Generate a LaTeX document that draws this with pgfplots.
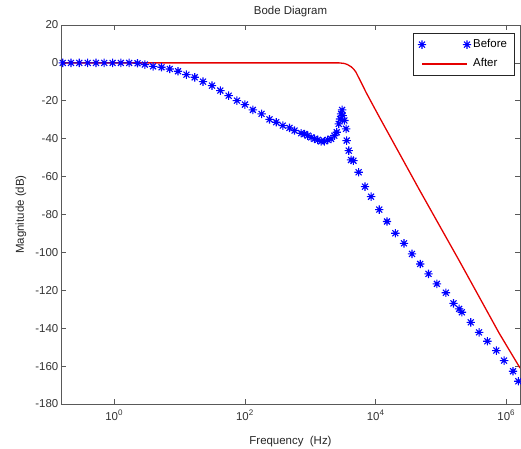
\documentclass[border=0pt]{standalone}
\usepackage{fontspec}
\setmainfont{Liberation Sans}
\usepackage{pgfplots}
\pgfplotsset{compat=1.18}
\pgfdeclareplotmark{mstar}{%
 \pgfpathmoveto{\pgfqpoint{-\pgfplotmarksize}{0pt}}\pgfpathlineto{\pgfqpoint{\pgfplotmarksize}{0pt}}%
 \pgfpathmoveto{\pgfqpoint{0pt}{-\pgfplotmarksize}}\pgfpathlineto{\pgfqpoint{0pt}{\pgfplotmarksize}}%
 \pgfpathmoveto{\pgfqpoint{-0.707\pgfplotmarksize}{-0.707\pgfplotmarksize}}\pgfpathlineto{\pgfqpoint{0.707\pgfplotmarksize}{0.707\pgfplotmarksize}}%
 \pgfpathmoveto{\pgfqpoint{-0.707\pgfplotmarksize}{0.707\pgfplotmarksize}}\pgfpathlineto{\pgfqpoint{0.707\pgfplotmarksize}{-0.707\pgfplotmarksize}}%
 \pgfusepathqstroke}
\begin{document}
\begin{tikzpicture}
\begin{axis}[
  name=ax,
  scale only axis, width=459bp, height=379bp,
  xmode=log, xmin=0.1535, xmax=1618000,
  ymin=-180, ymax=20,
  xtick={1,100,10000,1000000},
  xticklabels={10\textsuperscript{0},10\textsuperscript{2},10\textsuperscript{4},10\textsuperscript{6}},
  minor xtick={},
  ytick={-180,-160,-140,-120,-100,-80,-60,-40,-20,0,20},
  yticklabels={-180,-160,-140,-120,-100,-80,-60,-40,-20,0,20},
  tick align=inside, major tick length=5bp,
  axis line style={black!65, line width=0.7bp},
  every tick/.style={black!65, line width=0.6bp},
  font=\fontsize{11.5}{13}\selectfont,
  ticklabel style={font=\fontsize{11.5}{13}\selectfont, text=black!80},
  yticklabel style={inner sep=0pt, xshift=-2.5bp},
  xticklabel style={inner sep=0pt, yshift=-6bp},
  title={Bode Diagram},
  every axis title shift=0pt,
  title style={at={(0.5,1.0264)}, anchor=base, inner sep=0pt, text=black!85},
  xlabel={Frequency\ \ (Hz)},
  xlabel style={at={(0.5,-0.108)}, anchor=base, inner sep=0pt, text=black!85},
  ylabel={Magnitude (dB)},
  ylabel style={at={(-0.0871,0.5)}, anchor=center, inner sep=0pt, text=black!85},
  legend image code/.code={\draw[#1] plot coordinates {(0bp,0bp) (45bp,0bp)};},
  legend cell align=left,
  legend style={at={(0.9891,0.9789)}, anchor=north east, draw=black!85, line width=0.6bp,
    fill=white, font=\fontsize{11.5}{13}\selectfont, inner xsep=4.5bp, inner ysep=3.8bp,
    nodes={inner sep=2bp, text height=8bp, text depth=3bp}, row sep=4.3bp},
]
\addplot[only marks, mark=mstar, mark size=4.2bp, color=blue, mark options={line width=1.1bp}] coordinates {
(0.163,0) (0.218,0) (0.292,0) (0.393,0) (0.526,0) (0.703,0) (0.946,0) (1.265,0) (1.694,0) (2.275,-0.2)
(2.944,-0.9) (3.936,-1.8) (5.30,-2.3) (7.08,-3.2) (9.48,-4.4) (12.74,-6.2) (17.06,-7.6) (22.86,-9.9)
(31.33,-12) (42.07,-14.6) (56.36,-17.3) (75.51,-19.9) (100,-22) (132.4,-24.8) (179.9,-26.9)
(238.2,-29.8) (301.3,-31.3) (380.2,-33.1) (480.8,-34.3) (574.1,-35.7) (726.1,-37.1) (816.6,-37.5)
(916.2,-38.4) (1033,-39.3) (1159,-40.1) (1303,-40.6) (1466,-41.4) (1648,-41.4) (1849,-40.6)
(2084,-40.1) (2339,-38.4) (2541,-36.6) (2723,-32.2) (2858,-29.6) (2965,-26.9) (3069,-24.8)
(3133,-27.8) (3327,-30.4) (3532,-34.8) (3606,-41) (3873,-46.3) (4207,-51.2) (4571,-51.6)
(5495,-57.7) (6887,-65.3) (8511,-70.6) (11376,-77.4) (14928,-83.7) (20000,-89.9) (27164,-95.2)
(35975,-100.8) (48084,-106.1) (64417,-111.3) (86497,-116.6) (118850,-121.3) (155240,-126.9)
(189670,-129.8) (208450,-131.6) (285760,-136.9) (382830,-142.2) (512860,-146.9) (703070,-151.8)
(922570,-157.1) (1264700,-162.7) (1524100,-168)
};
\addlegendentry{\makebox[35bp][l]{Before}}
\addplot[color=red!90!black, line width=1.3bp, mark=none] coordinates {
(0.1535,0) (2793,0) (3327,-0.3) (3718,-0.9) (4207,-2) (4624,-3.3) (5023,-5) (5442,-7.4)
(5984,-10.2) (7129,-15.5) (8995,-22) (11376,-28.5) (24434,-49.3) (46452,-66.8) (88512,-84)
(189670,-104.3) (382830,-123.4) (772680,-142.5) (1618000,-161)
};
\addlegendentry{\makebox[35bp][l]{After}}
\end{axis}
\pgfresetboundingbox
\path[use as bounding box] ([xshift=-61bp,yshift=-45bp]ax.south west) rectangle ([xshift=1bp,yshift=25bp]ax.north east);
\end{tikzpicture}
\end{document}
